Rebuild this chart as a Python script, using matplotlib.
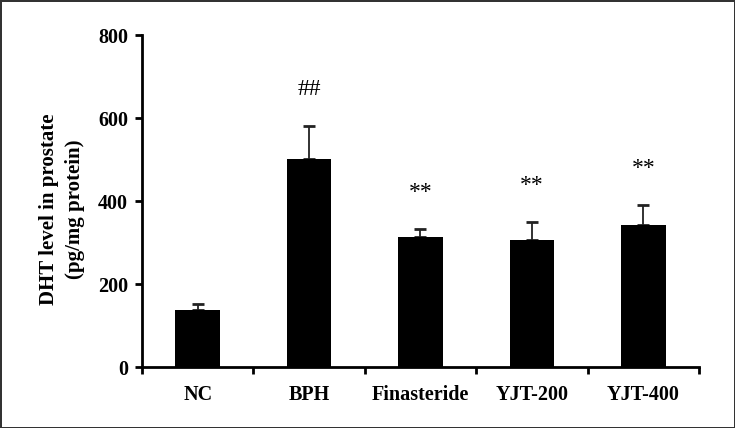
import matplotlib.pyplot as plt

plt.rcParams['font.family'] = ['Liberation Serif', 'DejaVu Serif']

groups = ['NC', 'BPH', 'Finasteride', 'YJT-200', 'YJT-400']
dht = [137, 501, 313, 306, 342]
sd = [15, 80, 20, 44, 49]
marks = ['', '##', '**', '**', '**']

fig = plt.figure(figsize=(7.35, 4.28), dpi=100)
fig.patch.set_edgecolor('#333333')
fig.patch.set_linewidth(2)
ax = fig.add_axes([0.1932, 0.1425, 0.7578, 0.7755])

x = range(len(groups))
ax.bar(x, dht, width=0.4, color='black', zorder=2)
ax.errorbar(x, dht, yerr=[[0] * len(sd), sd], fmt='none', ecolor='#222222',
            elinewidth=1.3, capsize=4, capthick=2, zorder=1)

for i, m in enumerate(marks):
    if m:
        ax.annotate(m, (i, dht[i] + sd[i]), xytext=(0, 26), textcoords='offset points',
                    ha='center', va='center', fontsize=17)

ax.set_xlim(-0.5, len(groups) - 0.5)
ax.set_ylim(0, 800)
ax.set_yticks([0, 200, 400, 600, 800])
ax.set_xticks([i - 0.5 for i in range(len(groups) + 1)])
ax.set_xticklabels([])
ax.set_xticks(list(x), minor=True)
ax.set_xticklabels(groups, minor=True, fontsize=14.5, fontweight='bold')
ax.tick_params(axis='x', which='minor', length=0, pad=13)
ax.tick_params(axis='x', which='major', direction='out', length=5, width=2)
ax.tick_params(axis='y', direction='out', length=5, width=2, labelsize=14.5, pad=5)
for lab in ax.get_yticklabels():
    lab.set_fontweight('bold')

ax.spines['top'].set_visible(False)
ax.spines['right'].set_visible(False)
ax.spines['left'].set_linewidth(2)
ax.spines['bottom'].set_linewidth(2)

ax.set_ylabel('DHT level in prostate\n(pg/mg protein)', fontsize=15, fontweight='bold',
              linespacing=1.35)
ax.yaxis.set_label_coords(-0.103, 0.475)

fig.savefig('out.png', dpi=100)
